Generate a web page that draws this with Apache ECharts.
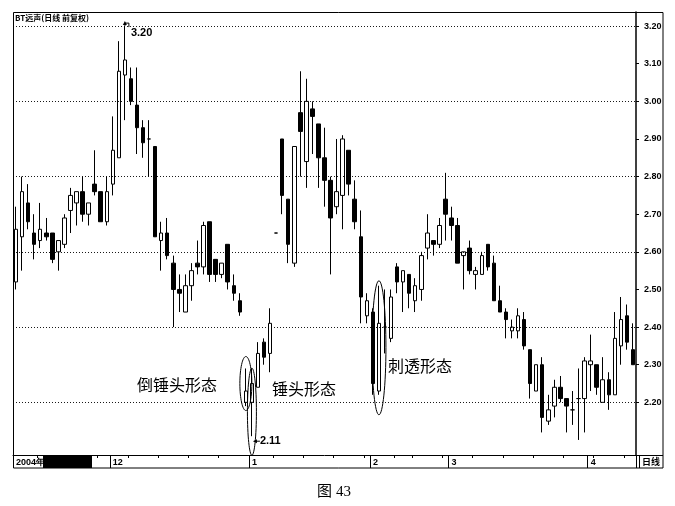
<!DOCTYPE html>
<html><head><meta charset="utf-8">
<script src="https://cdn.jsdelivr.net/npm/echarts@6/dist/echarts.min.js"></script>
<style>html,body{margin:0;padding:0;background:#fff}#c{width:675px;height:506px}</style>
</head><body><div id="c"></div>
<script>
// ---- trading days (categories) ----
const nov04 = [9,10,11,12,15,16,17,18,19,22,23,24,25,26,29,30];
const dec04 = [1,2,3,6,7,8,9,10,13,14,15,16,17,20,21,22,23,24,27,28,29,30,31];
const jan05 = [4,5,6,7,10,11,12,13,14,17,18,19,20,21,24,25,26,27,28,31];
const feb05 = [1,2,3,4,16,17,18,21,22,23,24,25,28];
const mar05 = [1,2,3,4,7,8,9,10,11,14,15,16,17,18,21,22,23,24,25,28,29,30,31];
const apr05 = [1,4,5,6,7,8,11,12];

// ---- OHLC values ----
const opens = [2.52,2.64,2.73,2.65,2.63,2.65,2.65,2.60,2.62,2.71,
  2.73,2.76,2.70,2.78,2.76,2.68,2.78,2.85,3.07,3.06,
  2.99,2.93,2.90,2.88,2.63,2.65,2.57,2.50,2.44,2.51,
  2.57,2.56,2.68,2.58,2.54,2.62,2.51,2.47,2.20,2.20,
  2.24,2.36,2.33,2.65,2.90,2.74,2.57,2.97,2.84,2.98,
  2.94,2.85,2.79,2.72,2.75,2.87,2.74,2.64,2.43,2.44,
  2.23,2.40,2.37,2.56,2.52,2.54,2.47,2.50,2.61,2.63,
  2.62,2.74,2.69,2.67,2.59,2.61,2.54,2.54,2.62,2.57,
  2.47,2.44,2.39,2.39,2.42,2.34,2.23,2.30,2.15,2.19,
  2.24,2.21,2.18,2.21,2.21,2.30,2.30,2.20,2.26,2.22,
  2.35,2.43,2.34];
const closes = [2.66,2.76,2.68,2.62,2.66,2.64,2.58,2.63,2.69,2.75,
  2.76,2.70,2.73,2.76,2.68,2.76,2.87,3.08,3.11,3.00,
  2.93,2.89,2.90,2.64,2.65,2.59,2.50,2.49,2.51,2.55,
  2.56,2.67,2.54,2.54,2.57,2.52,2.49,2.44,2.23,2.25,
  2.33,2.32,2.41,2.65,2.75,2.62,2.88,2.92,3.00,2.96,
  2.85,2.79,2.69,2.76,2.90,2.78,2.68,2.48,2.47,2.25,
  2.41,2.40,2.48,2.52,2.55,2.49,2.51,2.59,2.65,2.62,
  2.67,2.70,2.67,2.57,2.60,2.55,2.55,2.59,2.56,2.47,
  2.44,2.42,2.40,2.43,2.35,2.25,2.30,2.16,2.18,2.24,
  2.21,2.19,2.18,2.21,2.31,2.31,2.24,2.26,2.22,2.37,
  2.42,2.36,2.30];
const lows = [2.50,2.55,2.66,2.58,2.61,2.63,2.57,2.55,2.61,2.65,
  2.67,2.68,2.67,2.75,2.68,2.67,2.75,2.85,2.95,2.99,
  2.86,2.85,2.80,2.64,2.55,2.58,2.40,2.44,2.44,2.47,
  2.54,2.54,2.52,2.52,2.53,2.50,2.47,2.43,2.19,2.11,
  2.24,2.30,2.28,2.65,2.70,2.57,2.56,2.80,2.77,2.86,
  2.77,2.72,2.54,2.70,2.66,2.75,2.66,2.41,2.41,2.22,
  2.22,2.33,2.36,2.49,2.44,2.45,2.44,2.47,2.58,2.59,
  2.61,2.63,2.63,2.57,2.50,2.54,2.50,2.54,2.55,2.47,
  2.44,2.37,2.37,2.37,2.34,2.21,2.23,2.12,2.14,2.16,
  2.20,2.12,2.14,2.10,2.12,2.23,2.22,2.20,2.18,2.22,
  2.30,2.34,2.30];
const highs = [2.72,2.80,2.78,2.70,2.73,2.69,2.65,2.63,2.70,2.77,
  2.76,2.80,2.73,2.87,2.76,2.80,2.96,3.16,3.20,3.09,
  3.09,2.95,2.95,2.88,2.68,2.69,2.59,2.54,2.54,2.57,
  2.63,2.68,2.68,2.58,2.57,2.62,2.54,2.49,2.29,2.29,
  2.36,2.37,2.45,2.65,2.90,2.74,2.88,3.08,3.06,3.00,
  2.94,2.93,2.80,2.90,2.91,2.87,2.79,2.71,2.49,2.45,
  2.51,2.50,2.50,2.57,2.55,2.54,2.53,2.60,2.70,2.63,
  2.69,2.81,2.72,2.69,2.60,2.63,2.56,2.60,2.62,2.59,
  2.51,2.45,2.42,2.45,2.44,2.34,2.30,2.32,2.22,2.26,
  2.27,2.21,2.23,2.29,2.32,2.38,2.30,2.32,2.28,2.44,
  2.48,2.46,2.41];

// ---- axis texts ----
const yTickValues = [2.2,2.3,2.4,2.5,2.6,2.7,2.8,2.9,3.0,3.1,3.2];
const gridValues = [3.2,3.0,2.8,2.6,2.4,2.2];
const firstLabel = '2004年';
const titleText = 'BT远声(日线 前复权)';
const periodText = '日线';
const captionText = '图 43';

// ---- annotations ----
const highMarkIndex = 18, highMarkValue = 3.20, highMarkText = '3.20';
const lowMarkIndex = 39, lowMarkValue = 2.11, lowMarkText = '2.11';
const patternTexts = ['倒锤头形态','锤头形态','刺透形态'];

// build categories
const months = [['2004-11',nov04],['2004-12',dec04],['2005-01',jan05],['2005-02',feb05],['2005-03',mar05],['2005-04',apr05]];
const dates = [];
months.forEach(([m, days]) => days.forEach(d => dates.push(m + '-' + String(d).padStart(2,'0'))));
const ohlc = opens.map((o,i) => [o, closes[i], lows[i], highs[i]]);

function isMonthStart(i){ return i === 0 || dates[i].slice(0,7) !== dates[i-1].slice(0,7); }
function isWeekStart(i){
  if (i === 0) return true;
  const a = new Date(dates[i-1] + 'T00:00:00Z'), b = new Date(dates[i] + 'T00:00:00Z');
  return b.getUTCDay() <= a.getUTCDay() || (b - a) > 6*864e5;
}

const chart = echarts.init(document.getElementById('c'), null, {renderer:'canvas'});
const numFont = 'Liberation Sans, Arial, sans-serif';
const option = {
  animation: false,
  backgroundColor: '#fff',
  grid: {left: 13, right: 39, top: 12, bottom: 51, containLabel: false},
  xAxis: [{
    type: 'category', data: dates, boundaryGap: true, position: 'bottom',
    axisLine: {show: true, lineStyle: {color: '#000', width: 1}},
    axisTick: {show: true, length: 13, interval: (i) => isMonthStart(i) && i > 0, lineStyle: {color: '#000'}},
    axisLabel: {
      show: true, interval: (i) => isMonthStart(i), margin: 3, align: 'left',
      fontSize: 9, fontWeight: 'bold', color: '#000', fontFamily: numFont,
      formatter: (v, i) => i === 0 ? firstLabel : String(parseInt(v.slice(5,7),10))
    },
    splitLine: {show: false}
  },{
    type: 'category', data: dates, boundaryGap: true, position: 'bottom',
    axisLine: {show: false},
    axisTick: {show: true, length: 3, interval: (i) => isWeekStart(i) && !isMonthStart(i), lineStyle: {color: '#000'}},
    axisLabel: {show: false}, splitLine: {show: false}
  }],
  yAxis: {
    type: 'value', position: 'right', min: 2.06, max: 3.2375, scale: true,
    axisLine: {show: true, onZero: false, lineStyle: {color: '#000', width: 1.5}},
    axisTick: {show: true, length: 3, customValues: yTickValues, lineStyle: {color: '#000'}},
    axisLabel: {show: true, customValues: yTickValues, margin: 8, fontSize: 9, fontWeight: 'bold', color: '#000',
      fontFamily: numFont, formatter: (v) => Number(v).toFixed(2)},
    splitLine: {show: false}
  },
  series: [{
    type: 'candlestick', data: ohlc, xAxisIndex: 0, yAxisIndex: 0, barWidth: 4,
    itemStyle: {color: '#ffffff', color0: '#000000', borderColor: '#000000', borderColor0: '#000000', borderWidth: 1},
    markLine: {
      silent: true, symbol: ['none','none'], animation: false,
      label: {show: false},
      lineStyle: {color: '#000', width: 1, type: [1,2], opacity: 0.9},
      data: gridValues.map(v => ({yAxis: v}))
    }
  }]
};
chart.setOption(option);

const P = (i, v) => chart.convertToPixel({xAxisIndex: 0, yAxisIndex: 0}, [i, v]);
const hi = P(highMarkIndex, highMarkValue);
const lo = P(lowMarkIndex, lowMarkValue);
const e1 = P(37.55, 2.25), e2 = P(lowMarkIndex, 2.175), e3 = P(59.6, 2.345);
const cjk = '"Noto Sans CJK SC", sans-serif';

const graphics = [
  {type:'rect', shape:{x:13.5, y:12.5, width:649.5, height:455.5}, style:{fill:'none', stroke:'#000', lineWidth:1}, z:100},
  {type:'line', shape:{x1:636, y1:455.5, x2:663, y2:455.5}, style:{stroke:'#000', lineWidth:1}, z:100},
  {type:'line', shape:{x1:639.5, y1:455.5, x2:639.5, y2:468}, style:{stroke:'#000', lineWidth:1}, z:100},
  {type:'rect', shape:{x:43, y:456, width:49, height:12}, style:{fill:'#000'}, z:100},
  {type:'text', x:651, y:462, style:{text:periodText, font:'bold 9px ' + cjk, fill:'#000', textAlign:'center', textVerticalAlign:'middle'}, z:100},
  {type:'text', x:15, y:17.5, style:{text:titleText, font:'bold 8px ' + cjk, fill:'#000', textAlign:'left', textVerticalAlign:'middle'}, z:100},
  {type:'text', x:334, y:492, style:{text:captionText, font:'15px "Liberation Serif", "Noto Sans CJK SC", serif', fill:'#000', textAlign:'center', textVerticalAlign:'middle'}, z:100},
  // pattern labels
  {type:'text', x:137, y:385, style:{text:patternTexts[0], font:'16px ' + cjk, fill:'#000', textAlign:'left', textVerticalAlign:'middle'}, z:100},
  {type:'text', x:272, y:389, style:{text:patternTexts[1], font:'16px ' + cjk, fill:'#000', textAlign:'left', textVerticalAlign:'middle'}, z:100},
  {type:'text', x:388, y:366, style:{text:patternTexts[2], font:'16px ' + cjk, fill:'#000', textAlign:'left', textVerticalAlign:'middle'}, z:100},
  // ellipses
  {type:'ellipse', shape:{cx:e1[0], cy:e1[1], rx:6, ry:27}, style:{fill:'none', stroke:'#000', lineWidth:1}, z:100},
  {type:'ellipse', shape:{cx:e2[0], cy:e2[1], rx:4.5, ry:43.5}, style:{fill:'none', stroke:'#000', lineWidth:1}, z:100},
  {type:'ellipse', shape:{cx:e3[0], cy:e3[1], rx:7, ry:67}, style:{fill:'none', stroke:'#000', lineWidth:1}, z:100},
  // 3.20 marker
  {type:'polyline', shape:{points:[[hi[0], hi[1]], [hi[0], hi[1]-3], [hi[0]+4, hi[1]-3], [hi[0]+4, hi[1]+1]]}, style:{fill:'none', stroke:'#000', lineWidth:1}, z:100},
  {type:'polygon', shape:{points:[[hi[0]-2, hi[1]-1], [hi[0]+2, hi[1]-1], [hi[0], hi[1]-5]]}, style:{fill:'#000'}, z:100},
  {type:'text', x:hi[0]+6, y:hi[1]+7, style:{text:highMarkText, font:'bold 11px ' + numFont, fill:'#000', textAlign:'left', textVerticalAlign:'middle'}, z:100},
  // 2.11 marker
  {type:'line', shape:{x1:lo[0]+3, y1:lo[1]+5, x2:lo[0]+8, y2:lo[1]+5}, style:{stroke:'#000', lineWidth:1}, z:100},
  {type:'polygon', shape:{points:[[lo[0]+1, lo[1]+5], [lo[0]+5, lo[1]+3], [lo[0]+5, lo[1]+7]]}, style:{fill:'#000'}, z:100},
  {type:'text', x:lo[0]+8, y:lo[1]+5, style:{text:lowMarkText, font:'bold 11px ' + numFont, fill:'#000', textAlign:'left', textVerticalAlign:'middle'}, z:100}
];
chart.setOption({graphic: {elements: graphics}});
</script>
</body></html>
